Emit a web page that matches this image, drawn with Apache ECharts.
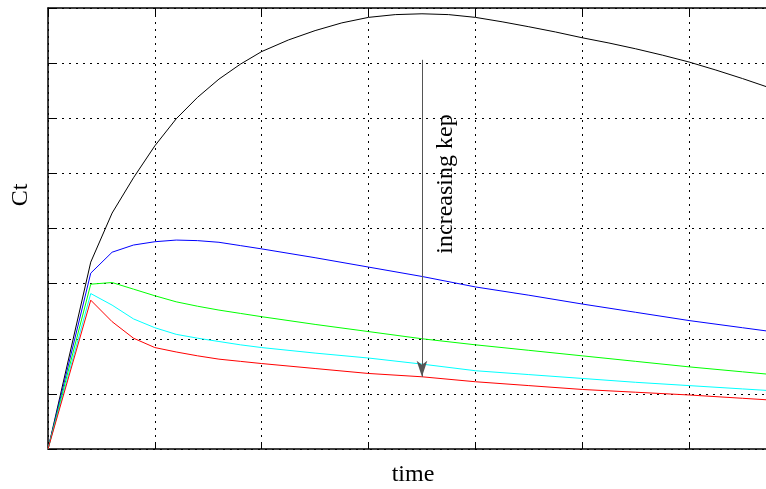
<!DOCTYPE html>
<html>
<head>
<meta charset="utf-8">
<script src="https://cdn.jsdelivr.net/npm/echarts@6/dist/echarts.min.js"></script>
<style>
  html, body { margin: 0; padding: 0; background: #fff; }
  #chart { width: 766px; height: 489px; }
</style>
</head>
<body>
<div id="chart"></div>
<script>
// sample times for the coloured curves
const times = [0, 0.4, 0.6, 0.8, 1.0, 1.2, 1.4, 1.6, 1.8, 2.0, 2.5, 3.0, 3.5, 4.0, 4.5, 5.0, 5.5, 6.0, 6.5, 7.0];
const timesBlack = [0, 0.4, 0.6, 0.8, 1.0, 1.2, 1.4, 1.6, 1.8, 2.0, 2.25, 2.5, 2.75, 3.0, 3.25, 3.5, 3.75, 4.0, 4.25, 4.5, 4.75, 5.0, 5.25, 5.5, 5.75, 6.0, 6.25, 6.5, 6.75, 7.0];

// Ct for each kep, smallest kep first
const ctBlack = [0, 3.39, 4.28, 4.92, 5.50, 5.99, 6.38, 6.71, 6.98, 7.21, 7.42, 7.59, 7.73, 7.83, 7.88, 7.895, 7.88, 7.83, 7.75, 7.66, 7.565, 7.46, 7.365, 7.26, 7.145, 7.02, 6.875, 6.72, 6.555, 6.39];
const ctBlue = [0, 3.19, 3.57, 3.70, 3.76, 3.79, 3.78, 3.75, 3.69, 3.63, 3.47, 3.30, 3.13, 2.94, 2.79, 2.63, 2.48, 2.33, 2.20, 2.07];
const ctGreen = [0, 2.99, 3.02, 2.90, 2.78, 2.67, 2.59, 2.52, 2.46, 2.40, 2.26, 2.13, 2.00, 1.89, 1.79, 1.69, 1.59, 1.49, 1.40, 1.31];
const ctCyan = [0, 2.82, 2.61, 2.36, 2.20, 2.08, 2.01, 1.95, 1.89, 1.84, 1.74, 1.65, 1.54, 1.42, 1.35, 1.28, 1.21, 1.15, 1.09, 1.03];
const ctRed = [0, 2.70, 2.31, 2.01, 1.84, 1.76, 1.69, 1.63, 1.59, 1.55, 1.46, 1.37, 1.31, 1.22, 1.15, 1.08, 1.03, 0.98, 0.92, 0.86];

// arrow annotation (time, Ct from -> to)
const arrowTime = 3.5;
const arrowFrom = 7.06;
const arrowTo = 1.31;

const serif = "'Liberation Serif', 'DejaVu Serif', serif";

function pairs(ts, ys) {
  return ts.map((t, i) => [t, ys[i]]);
}

function lineSeries(name, ts, ys, color) {
  return {
    name: name,
    type: "line",
    data: pairs(ts, ys),
    showSymbol: false,
    silent: true,
    lineStyle: { color: color, width: 1 },
    z: 3
  };
}

const gridLine = { show: true, lineStyle: { color: "#000", width: 1, type: [2, 5] } };

const myChart = echarts.init(document.getElementById("chart"));
const red = lineSeries("red", times, ctRed, "#ff0000");
red.markLine = {
  silent: true,
  symbol: ["none", "arrow"],
  symbolSize: 12,
  label: { show: false },
  lineStyle: { color: "#555", width: 1, type: "solid" },
  data: [[{ coord: [arrowTime, arrowFrom] }, { coord: [arrowTime, arrowTo], symbolSize: [8, 16] }]]
};

let option = {
  animation: false,
  backgroundColor: "#fff",
  grid: { left: 48, top: 8, right: 0, bottom: 40 },
  xAxis: [
    {
      type: "value",
      min: 0,
      max: 6.72,
      interval: 1,
      axisLine: { show: true, lineStyle: { color: "#000", width: 1.5 } },
      axisTick: { show: true, inside: true, length: 7, lineStyle: { color: "#000" } },
      axisLabel: { show: false },
      splitLine: gridLine
    },
    {
      type: "value",
      position: "top",
      min: 0,
      max: 6.72,
      interval: 1,
      axisLine: { show: true, onZero: false, lineStyle: { color: "#000", width: 1.5 } },
      axisTick: { show: true, inside: true, length: 7, lineStyle: { color: "#000" } },
      axisLabel: { show: false },
      splitLine: { show: false }
    }
  ],
  yAxis: {
    type: "value",
    min: 0,
    max: 8,
    interval: 1,
    axisLine: { show: true, lineStyle: { color: "#000", width: 1.5 } },
    axisTick: { show: true, inside: true, length: 7, lineStyle: { color: "#000" } },
    axisLabel: { show: false },
    splitLine: gridLine
  },
  graphic: [
    {
      type: "text",
      x: 413,
      y: 475,
      style: { text: "time", font: "24px " + serif, fill: "#000", align: "center", verticalAlign: "middle" }
    },
    {
      type: "text",
      x: 21,
      y: 195,
      rotation: Math.PI / 2,
      style: { text: "Ct", font: "24px " + serif, fill: "#000", align: "center", verticalAlign: "middle" }
    },
    {
      type: "text",
      x: 446,
      y: 184,
      rotation: Math.PI / 2,
      style: { text: "increasing kep", font: "24px " + serif, fill: "#000", align: "center", verticalAlign: "middle" }
    }
  ],
  series: [
    lineSeries("black", timesBlack, ctBlack, "#000000"),
    lineSeries("blue", times, ctBlue, "#0000ff"),
    lineSeries("green", times, ctGreen, "#00ff00"),
    lineSeries("cyan", times, ctCyan, "#00ffff"),
    red
  ]
};
myChart.setOption(option);
</script>
</body>
</html>
